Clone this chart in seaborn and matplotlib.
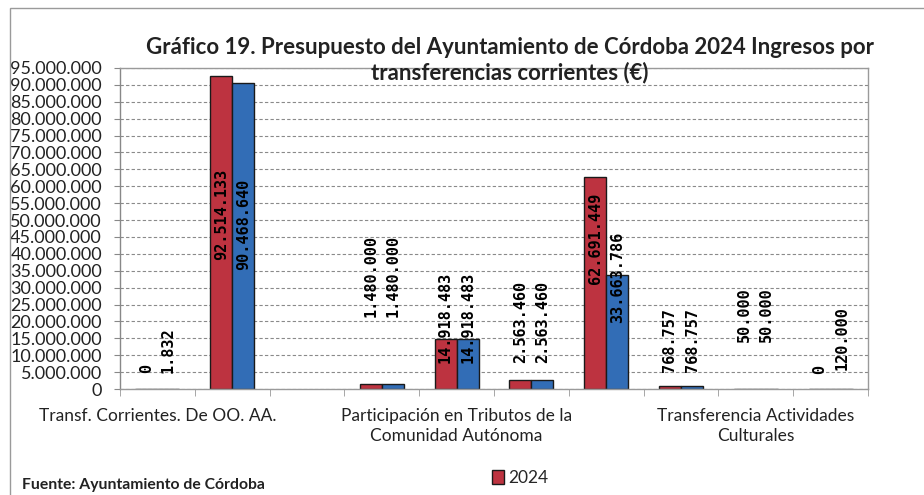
import numpy as np
import pandas as pd
import matplotlib
matplotlib.use("Agg")
import matplotlib.pyplot as plt
import seaborn as sns
from matplotlib.patches import Rectangle
from matplotlib.ticker import FuncFormatter, MultipleLocator

sns.set_style("white")
plt.rcParams["font.family"] = ["Lato", "DejaVu Sans"]

# ── datos ─────────────────────────────────────────────────────────────────────
SERIES = ["2024", "2023"]
VALORES_2024 = [0, 92514133, np.nan, 1480000, 14918483, 2563460, 62691449, 768757, 50000, 0]
VALORES_2023 = [1832, 90468640, np.nan, 1480000, 14918483, 2563460, 33663786, 768757, 50000, 120000]
ETIQUETAS_X = {
    0: "Transf. Corrientes. De OO. AA.",
    4: "Participación en Tributos de la\nComunidad Autónoma",
    8: "Transferencia Actividades\nCulturales",
}
TITULO = ("Gráfico 19. Presupuesto del Ayuntamiento de Córdoba 2024 Ingresos por\n"
          "transferencias corrientes (€)")
FUENTE = "Fuente: Ayuntamiento de Córdoba"

# centro vertical de cada etiqueta de dato (millones), colocadas a mano
LABEL_Y_2024 = [6.1, 51.8, None, 33.4, 21.3, 19.8, 44.7, 14.5, 21.9, 5.9]
LABEL_Y_2023 = [11.5, 48.7, None, 33.4, 21.3, 19.8, 33.1, 14.5, 21.9, 15.1]

COLORES = {"2024": "#D41C2E", "2023": "#1C6ACC"}

n = len(VALORES_2024)
df = pd.DataFrame({
    "pos": list(range(n)) * 2,
    "serie": ["2024"] * n + ["2023"] * n,
    "valor": VALORES_2024 + VALORES_2023,
})

# ── figura ────────────────────────────────────────────────────────────────────
fig = plt.figure(figsize=(9.24, 4.95), dpi=100)
ax = fig.add_axes([120 / 924, 1 - 389 / 495, 748 / 924, 321 / 495])

sns.barplot(data=df, x="pos", y="valor", hue="serie", hue_order=SERIES,
            order=list(range(n)), palette=COLORES, width=0.59,
            edgecolor="#1a1a1a", linewidth=1.0, errorbar=None, ax=ax,
            legend=True)

ax.set_ylim(0, 95_000_000)
ax.set_xlim(-0.5, n - 0.5)
ax.yaxis.set_major_locator(MultipleLocator(5_000_000))
ax.yaxis.set_major_formatter(FuncFormatter(lambda v, p: f"{int(v):,}".replace(",", ".")))
ax.tick_params(axis="y", labelsize=13, length=4, color="#888888", pad=9,
               labelcolor="#222222", left=True)
ax.yaxis.grid(True, linestyle=(0, (3, 2)), color="#8a8a8a", linewidth=0.8)
ax.set_axisbelow(True)

# etiquetas de categoría cada 4 y marcas entre categorías
ax.set_xticks(list(ETIQUETAS_X.keys()))
ax.set_xticklabels(list(ETIQUETAS_X.values()), fontsize=12.5, color="#222222",
                   linespacing=1.25)
ax.set_xticks(np.arange(-0.5, n, 1.0), minor=True)
ax.tick_params(axis="x", which="major", length=0, pad=14)
ax.tick_params(axis="x", which="minor", length=5, color="#999999", bottom=True)
ax.set_xlabel("")
ax.set_ylabel("")

for s in ["top", "right", "bottom", "left"]:
    ax.spines[s].set_visible(True)
    ax.spines[s].set_color("#9a9a9a")
    ax.spines[s].set_linewidth(1.0)
ax.spines["left"].set_color("#888888")

# etiquetas de datos verticales (cada barra se asocia a su categoría por su centro)
for cont, vals, ys in zip(ax.containers, [VALORES_2024, VALORES_2023],
                          [LABEL_Y_2024, LABEL_Y_2023]):
    for bar in cont:
        xc = bar.get_x() + bar.get_width() / 2
        i = int(round(xc))
        v, y = vals[i], ys[i]
        if y is None or np.isnan(v):
            continue
        ax.text(xc, y * 1e6, f"{int(v):,}".replace(",", "."), rotation=90,
                ha="center", va="center", fontsize=11, fontweight="bold",
                family="DejaVu Sans Mono", color="black")

# leyenda (solo 2024)
handles, labels = ax.get_legend_handles_labels()
ax.get_legend().remove()
fig.legend(handles[:1], labels[:1], loc="center", bbox_to_anchor=(520 / 924, 1 - 478 / 495),
           frameon=False, fontsize=12.5, handlelength=0.7, handleheight=0.8,
           handletextpad=0.2)

fig.text(510 / 924, 1 - 60 / 495, TITULO, ha="center", va="center", fontsize=16,
         fontweight="bold", color="#222222", linespacing=1.2)
fig.text(22 / 924, 1 - 485 / 495, FUENTE, ha="left", va="center", fontsize=11.3,
         fontweight="bold", color="#222222")

# borde exterior del gráfico
fig.patches.append(Rectangle((10 / 924, -0.1), 1.2, 1.1 - 8 / 495, transform=fig.transFigure,
                             fill=False, edgecolor="#9a9a9a", linewidth=1.0))

fig.savefig("out.png", dpi=100)
